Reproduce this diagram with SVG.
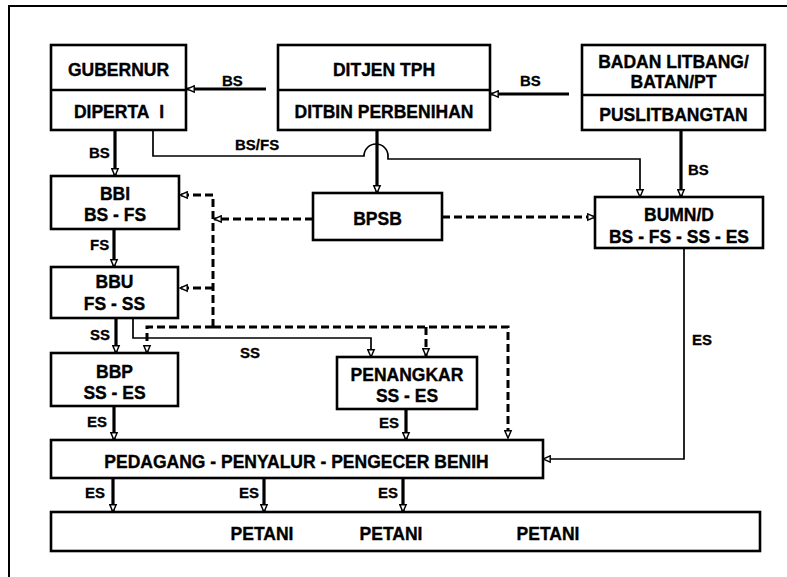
<svg xmlns="http://www.w3.org/2000/svg" width="787" height="577" viewBox="0 0 787 577">
<defs>
<marker id="ah" viewBox="0 0 10 10" refX="9" refY="5" markerWidth="9" markerHeight="9" markerUnits="userSpaceOnUse" orient="auto">
<path d="M1,1.5 L9,5 L1,8.5 z" fill="#fff" stroke="#000" stroke-width="1.6"/>
</marker>
<style>
.box{fill:#fff;stroke:#000;stroke-width:2.6}
.div{stroke:#000;stroke-width:2.6}
.t{font-family:"Liberation Sans",Arial,sans-serif;font-weight:bold;font-size:17.5px;text-anchor:middle;fill:#000;stroke:#000;stroke-width:0.35}
.l{font-family:"Liberation Sans",Arial,sans-serif;font-weight:bold;font-size:15px;fill:#000;stroke:#000;stroke-width:0.3}
.thick{fill:none;stroke:#000;stroke-width:3.2;marker-end:url(#ah)}
.thinA{fill:none;stroke:#000;stroke-width:1.7;marker-end:url(#ah)}
.dashA{fill:none;stroke:#000;stroke-width:3;stroke-dasharray:8 4;marker-end:url(#ah)}
</style>
</defs>
<rect width="787" height="577" fill="#fff"/>
<path d="M9,577 V6 H787" fill="none" stroke="#000" stroke-width="2"/>

<g id="connectors">
<path class="thick" d="M266,89 H187"/>
<path class="thick" d="M569,94 H491"/>
<path class="thick" d="M115,130 V176"/>
<path class="thick" d="M377,130 V193"/>
<path class="thick" d="M681,130 V197"/>
<path class="thick" d="M114,229 V267"/>
<path class="thick" d="M116,318 V353"/>
<path class="thick" d="M114,406 V440"/>
<path class="thick" d="M406,409 V440"/>
<path class="thick" d="M113,478 V512"/>
<path class="thick" d="M264,478 V512"/>
<path class="thick" d="M403,478 V512"/>
<path class="thinA" d="M153,130 V156 H364 A12,12 0 0 1 388,156 V159 H640 V197"/>
<path class="thinA" d="M133,318 V338 H371 V357"/>
<path class="thinA" d="M684,248 V459 H543"/>
<path class="dashA" d="M313,219 H214"/>
<path class="dashA" d="M442,217 H595"/>
<path class="dashA" d="M213,327 V195 H180"/>
<path class="dashA" d="M213,288 H180"/>
<path class="dashA" d="M213,327 H147 V353"/>
<path class="dashA" d="M213,327 H508 V438"/>
<path class="dashA" d="M426,327 V356"/>
<text class="l" x="222" y="86">BS</text>
<text class="l" x="520" y="86">BS</text>
<text class="l" x="89" y="158">BS</text>
<text class="l" x="235" y="150">BS/FS</text>
<text class="l" x="688" y="175">BS</text>
<text class="l" x="90" y="250">FS</text>
<text class="l" x="90" y="340">SS</text>
<text class="l" x="240" y="358">SS</text>
<text class="l" x="692" y="345">ES</text>
<text class="l" x="87" y="427">ES</text>
<text class="l" x="379" y="428">ES</text>
<text class="l" x="85" y="498">ES</text>
<text class="l" x="239" y="498">ES</text>
<text class="l" x="378" y="498">ES</text>
</g>

<g id="gubernur">
<rect class="box" x="51" y="45" width="135" height="85"/>
<line class="div" x1="51" y1="90" x2="186" y2="90"/>
<text class="t" x="118.5" y="76">GUBERNUR</text>
<text class="t" x="119" y="118">DIPERTA&#160; I</text>
</g>
<g id="ditjen">
<rect class="box" x="278" y="45" width="212" height="85"/>
<line class="div" x1="278" y1="90" x2="490" y2="90"/>
<text class="t" x="384" y="76">DITJEN TPH</text>
<text class="t" x="384" y="118">DITBIN PERBENIHAN</text>
</g>
<g id="badan">
<rect class="box" x="582" y="45" width="183" height="85"/>
<line class="div" x1="582" y1="95" x2="765" y2="95"/>
<text class="t" x="673.5" y="68">BADAN LITBANG/</text>
<text class="t" x="673.5" y="88">BATAN/PT</text>
<text class="t" x="673.5" y="121">PUSLITBANGTAN</text>
</g>
<g id="bbi">
<rect class="box" x="51" y="176" width="128" height="53"/>
<text class="t" x="115" y="200">BBI</text>
<text class="t" x="115" y="221">BS - FS</text>
</g>
<g id="bpsb">
<rect class="box" x="313" y="193" width="129" height="47"/>
<text class="t" x="377.5" y="225">BPSB</text>
</g>
<g id="bumn">
<rect class="box" x="595" y="197" width="168" height="51"/>
<text class="t" x="679" y="221">BUMN/D</text>
<text class="t" x="679" y="243">BS - FS - SS - ES</text>
</g>
<g id="bbu">
<rect class="box" x="51" y="267" width="127" height="51"/>
<text class="t" x="114.5" y="288">BBU</text>
<text class="t" x="114.5" y="310">FS - SS</text>
</g>
<g id="bbp">
<rect class="box" x="51" y="353" width="127" height="53"/>
<text class="t" x="114.5" y="378">BBP</text>
<text class="t" x="114.5" y="399">SS - ES</text>
</g>
<g id="penangkar">
<rect class="box" x="337" y="357" width="140" height="52"/>
<text class="t" x="407" y="381">PENANGKAR</text>
<text class="t" x="407" y="402">SS - ES</text>
</g>
<g id="pedagang">
<rect class="box" x="51" y="440" width="492" height="38"/>
<text class="t" x="296.5" y="468">PEDAGANG - PENYALUR - PENGECER BENIH</text>
</g>
<g id="petani">
<rect class="box" x="51" y="512" width="709" height="39"/>
<text class="t" x="262" y="540">PETANI</text>
<text class="t" x="391" y="540">PETANI</text>
<text class="t" x="548" y="540">PETANI</text>
</g>
</svg>
